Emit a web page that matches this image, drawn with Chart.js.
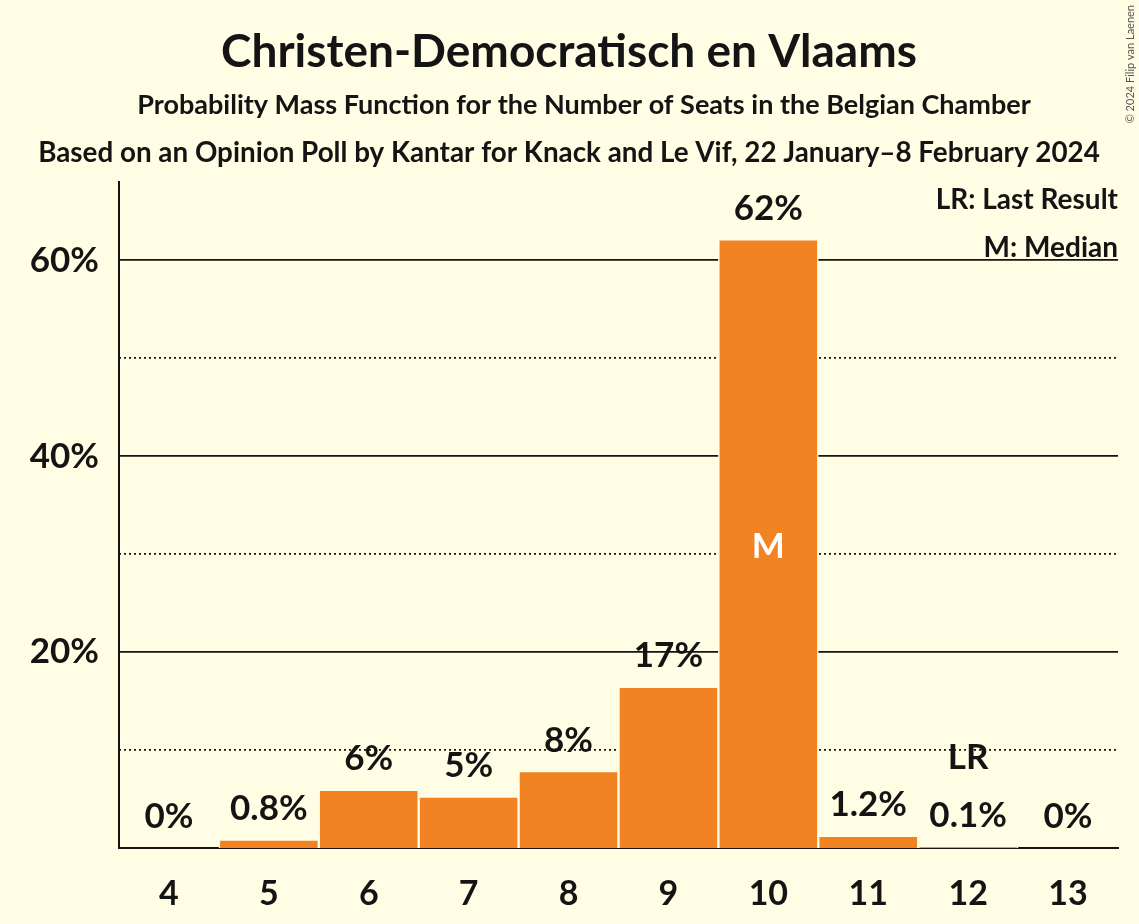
<!DOCTYPE html>
<html>
<head>
<meta charset="utf-8">
<script src="https://cdn.jsdelivr.net/npm/chart.js@4/dist/chart.umd.min.js"></script>
<style>
  html, body { margin: 0; padding: 0; background: #fffde3; }
  #wrap { width: 1139px; height: 924px; }
</style>
</head>
<body>
<div id="wrap"><canvas id="pmfChart" width="1139" height="924"></canvas></div>
<script>
// Seats and probabilities (percent)
const seats = ['4', '5', '6', '7', '8', '9', '10', '11', '12', '13'];
const probabilities = [0, 0.8, 5.9, 5.2, 7.8, 16.4, 62.1, 1.2, 0.1, 0];
const valueLabels = ['0%', '0.8%', '6%', '5%', '8%', '17%', '62%', '1.2%', '0.1%', '0%'];
const majorTicks = [20, 40, 60];
const minorTicks = [10, 30, 50];
const medianSeat = '10';
const lastResultSeat = '12';

const BG = '#fffde3';
const BAR = '#f28322';
const INK = '#141414';
const FONT = 'Lato, "Open Sans", sans-serif';

// Titles, legend notes and copyright
const textPlugin = {
    id: 'texts',
    afterDraw(chart) {
        const { ctx, chartArea } = chart;
        ctx.save();
        ctx.fillStyle = INK;
        ctx.textAlign = 'center';
        ctx.textBaseline = 'alphabetic';
        ctx.font = `bold 46px ${FONT}`;
        ctx.fillText('Christen-Democratisch en Vlaams', 569, 67);
        ctx.font = `bold 27px ${FONT}`;
        ctx.fillText('Probability Mass Function for the Number of Seats in the Belgian Chamber', 584, 114);
        ctx.font = `bold 27.8px ${FONT}`;
        ctx.fillText('Based on an Opinion Poll by Kantar for Knack and Le Vif, 22 January\u20138 February 2024', 569, 162);

        ctx.textAlign = 'right';
        ctx.font = `bold 28px ${FONT}`;
        ctx.fillText('LR: Last Result', chartArea.right, 209);
        ctx.fillText('M: Median', chartArea.right, 257);

        ctx.save();
        ctx.translate(1134, 5);
        ctx.rotate(-Math.PI / 2);
        ctx.textAlign = 'right';
        ctx.font = `11px ${FONT}`;
        ctx.fillStyle = '#555';
        ctx.fillText('\u00a9 2024 Filip van Laenen', 0, 0);
        ctx.restore();
        ctx.restore();
    }
};

// Percent labels over bars, M inside median bar, LR above last result
const barLabelPlugin = {
    id: 'barLabels',
    afterDatasetsDraw(chart) {
        const { ctx } = chart;
        const meta = chart.getDatasetMeta(0);
        ctx.save();
        ctx.textAlign = 'center';
        ctx.textBaseline = 'alphabetic';
        meta.data.forEach((bar, i) => {
            ctx.fillStyle = INK;
            ctx.font = `bold 35px ${FONT}`;
            ctx.fillText(valueLabels[i], bar.x, bar.y - 20);
            if (seats[i] === lastResultSeat) {
                ctx.fillText('LR', bar.x, bar.y - 78);
            }
            if (seats[i] === medianSeat) {
                ctx.fillStyle = '#ffffff';
                ctx.fillText('M', bar.x, (bar.y + bar.base) / 2 + 14);
            }
        });
        ctx.restore();
    }
};

const ctx = document.getElementById('pmfChart').getContext('2d');
new Chart(ctx, {
    type: 'bar',
    data: {
        labels: seats,
        datasets: [{
            data: probabilities,
            backgroundColor: BAR,
            borderColor: BG,
            borderWidth: { top: 1, left: 1.5, right: 1.5, bottom: 0 },
            borderSkipped: false,
            barPercentage: 1,
            categoryPercentage: 1
        }]
    },
    options: {
        responsive: false,
        animation: false,
        layout: { padding: { top: 182, right: 21, left: 0, bottom: 0 } },
        plugins: {
            legend: { display: false },
            tooltip: { enabled: false },
            title: { display: false }
        },
        scales: {
            x: {
                grid: { display: false },
                border: { display: true, color: INK, width: 2 },
                ticks: {
                    color: INK,
                    font: { family: FONT, size: 34, weight: 'bold' },
                    padding: 18
                },
                afterFit(scale) { scale.height = 76; }
            },
            y: {
                min: 0,
                max: 68,
                afterBuildTicks(scale) {
                    scale.ticks = majorTicks.map(v => ({ value: v }));
                },
                grid: { color: INK, lineWidth: 1.8, drawTicks: false },
                border: { display: true, color: INK, width: 2 },
                ticks: {
                    color: INK,
                    font: { family: FONT, size: 35, weight: 'bold' },
                    padding: 20,
                    callback: v => v + '%'
                },
                afterFit(scale) { scale.width = 119; }
            },
            y2: {
                position: 'left',
                min: 0,
                max: 68,
                afterBuildTicks(scale) {
                    scale.ticks = minorTicks.map(v => ({ value: v }));
                },
                grid: { color: INK, lineWidth: 1.8, drawTicks: false },
                border: { display: false, dash: [2, 3] },
                ticks: { display: false },
                afterFit(scale) { scale.width = 0; }
            }
        }
    },
    plugins: [textPlugin, barLabelPlugin]
});
</script>
</body>
</html>
